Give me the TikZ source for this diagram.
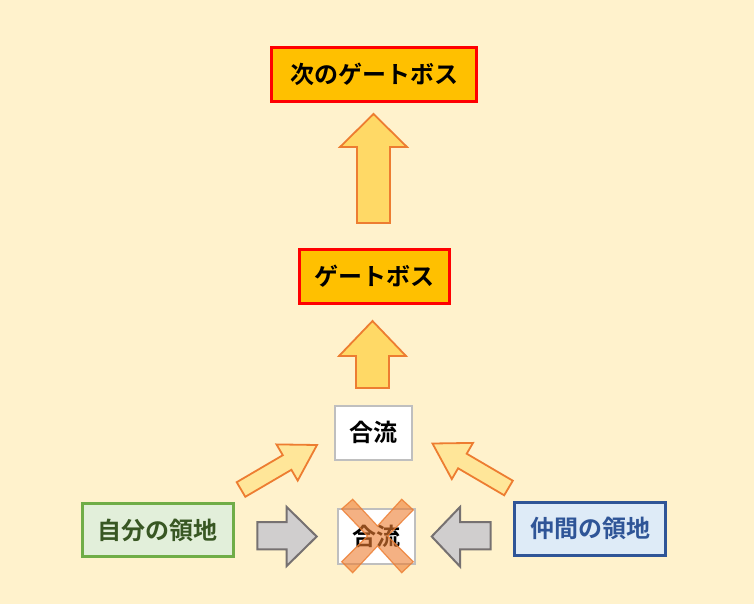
\documentclass[tikz,border=0pt]{standalone}
\usepackage{fontspec}
\setmainfont{Noto Sans CJK JP Bold}
\usetikzlibrary{calc}
\definecolor{bgc}{RGB}{255,242,204}
\definecolor{bossfill}{RGB}{255,192,0}
\definecolor{bossline}{RGB}{255,0,0}
\definecolor{upfill}{RGB}{255,217,102}
\definecolor{diagfill}{RGB}{255,230,153}
\definecolor{orangeline}{RGB}{237,125,49}
\definecolor{grayfill}{RGB}{208,206,206}
\definecolor{grayline}{RGB}{118,113,113}
\definecolor{boxgray}{RGB}{191,191,191}
\definecolor{greenfill}{RGB}{226,239,218}
\definecolor{greenline}{RGB}{112,173,71}
\definecolor{greentext}{RGB}{56,87,35}
\definecolor{bluefill}{RGB}{222,235,247}
\definecolor{blueline}{RGB}{47,85,151}
\begin{document}
\begin{tikzpicture}[x=1pt,y=-1pt,
  lbl/.style={font=\fontsize{24}{26}\selectfont, inner sep=0pt, outer sep=0pt},
  bossbox/.style={lbl, draw=bossline, fill=bossfill, line width=3pt, minimum height=54pt},
  mergebox/.style={lbl, draw=boxgray, fill=white, line width=2pt, minimum width=77pt, minimum height=54pt},
  greenbox/.style={lbl, draw=greenline, fill=greenfill, text=greentext, line width=3pt, minimum width=151pt, minimum height=53pt},
  bluebox/.style={lbl, draw=blueline, fill=bluefill, text=blueline, line width=3pt, minimum width=151pt, minimum height=53pt},
  uparrow/.style={draw=orangeline, fill=upfill, line width=1.8pt, line join=miter},
  diagarrow/.style={draw=orangeline, fill=diagfill, line width=1.8pt, line join=miter},
  grayarrow/.style={draw=grayline, fill=grayfill, line width=2pt, line join=miter},
  crossmark/.style={draw=orangeline, fill=orangeline, fill opacity=0.6, draw opacity=0.8, line width=1.2pt}
]
\fill[bgc] (0,0) rectangle (754,604);
\useasboundingbox (0,0) rectangle (754,604);

\node[bossbox, minimum width=205pt] (next) at (374,74.5) {次のゲートボス};
\node[bossbox, minimum width=150pt] (boss) at (374,276.5) {ゲートボス};
\node[mergebox] (merge) at (373.2,432.5) {合流};
\node[mergebox, minimum height=55pt] (nomerge) at (376.5,536.5) {合流};
\node[greenbox] (own) at (157.8,530.3) {自分の領地};
\node[bluebox] (ally) at (590.3,528.7) {仲間の領地};

% up arrows
\draw[uparrow] (373.5,114) -- (407,147) -- (390,147) -- (390,223) -- (357,223) -- (357,147) -- (340,147) -- cycle;
\draw[uparrow] (372.5,321) -- (406,356) -- (389,356) -- (389,388) -- (356,388) -- (356,356) -- (339,356) -- cycle;

% diagonal arrows
\draw[diagarrow] (236.7,482.2) -- (282.8,455.2) -- (276.5,444.4) -- (317,445) -- (297.7,480.6) -- (291.4,469.8) -- (245.3,496.8) -- cycle;
\draw[diagarrow] (512.8,480.7) -- (466.7,453.7) -- (473,442.9) -- (432.5,443.5) -- (451.8,479.1) -- (458.1,468.3) -- (504.2,495.3) -- cycle;

% gray arrows
\draw[grayarrow] (257.3,522) -- (286.7,522) -- (286.7,507) -- (316.7,536.5) -- (286.7,566) -- (286.7,549.3) -- (257.3,549.3) -- cycle;
\draw[grayarrow] (490.7,522) -- (460,522) -- (460,507) -- (431.7,536.5) -- (460,566.5) -- (460,549.3) -- (490.7,549.3) -- cycle;

% cross over the merge box
\draw[crossmark] (341.7,509) -- (352.7,499.3) -- (377.5,526) -- (401.7,499.3) -- (413.3,510) -- (387.5,536) -- (413.3,561.7) -- (401.7,572.7) -- (377.5,546) -- (352.7,572.7) -- (341.7,561.7) -- (367.5,536) -- cycle;
\end{tikzpicture}
\end{document}
